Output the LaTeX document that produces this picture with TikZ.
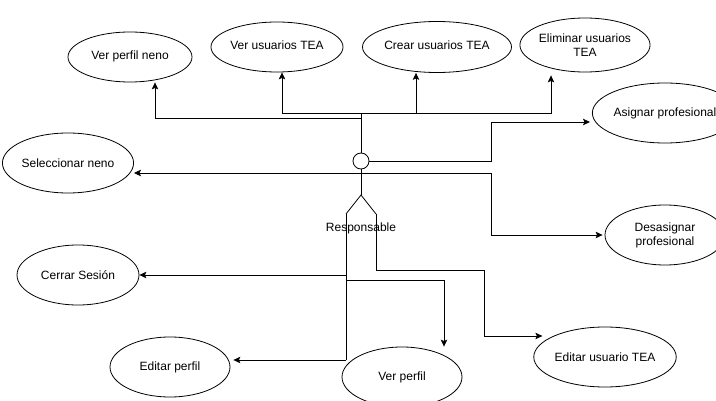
\documentclass[tikz,border=0pt]{standalone}
\usepackage{fontspec}
\setmainfont{Liberation Sans}
\usetikzlibrary{shapes.geometric,arrows.meta}
\begin{document}
\begin{tikzpicture}[x=1pt,y=-1pt,
  uc/.style={draw,ellipse,line width=0.8pt,inner sep=0pt,align=center,
    font=\fontsize{12}{14}\selectfont,minimum width=122pt,minimum height=60pt},
  conn/.style={draw,line width=0.8pt,-{Stealth[length=7pt,width=6.5pt,inset=1.5pt]}},
  plainline/.style={draw,line width=0.8pt},
  lbl/.style={font=\fontsize{12}{14}\selectfont,inner sep=0pt}]
\useasboundingbox (0,0) rectangle (716,401);
\clip (0,0) rectangle (716,401);
% use cases
\node[uc,minimum width=124pt,minimum height=50pt] (vpn) at (130,57) {\raisebox{4pt}{Ver perfil neno}};
\node[uc,minimum width=112pt,minimum height=50pt] (vut) at (277,47) {\raisebox{4pt}{Ver usuarios TEA}};
\node[uc,minimum width=122pt,minimum height=51pt] (cut) at (437,47) {\raisebox{4pt}{Crear usuarios TEA}};
\node[uc,minimum width=122pt,minimum height=54pt] (eut) at (585,45) {Eliminar usuarios\\TEA};
\node[uc,minimum width=120pt] (ap) at (665,113) {Asignar profesional};
\node[uc] (sn) at (68,163) {Seleccionar neno};
\node[uc,minimum width=120pt] (dp) at (665,235) {Desasignar\\profesional};
\node[uc] (cs) at (78,275) {Cerrar Sesión};
\node[uc,minimum width=120pt] (ep) at (170,367) {Editar perfil};
\node[uc,minimum width=120pt] (vp) at (402,377) {Ver perfil};
\node[uc] (eute) at (605,357) {Editar usuario TEA};
% actor
\node[circle,draw,line width=0.8pt,minimum size=16pt,inner sep=0pt] (head) at (361,161) {};
\coordinate (hip) at (361,195);
\coordinate (lk) at (346,214);
\coordinate (rk) at (376,214);
\coordinate (lf) at (346,360);
\coordinate (top) at (361,113);
\coordinate (nk) at (361,118);
\coordinate (arm) at (491,173);
\draw[plainline] (head.south) -- (hip);
\draw[plainline] (lk) -- (hip) -- (rk);
\draw[plainline] (lk) -- (lf);
\draw[plainline] (head.north) -- (top);
\node[lbl] (resp) at (361,228) {Responsable};
% connectors top
\draw[conn] (nk) -| ([xshift=25pt]vpn.south);
\draw[conn] (top) -| ([xshift=5pt]vut.south);
\draw[conn] (top) -| ([xshift=-21pt]cut.south);
\draw[conn] (top) -| ([xshift=-34pt,yshift=-3pt]eut.south);
% right side
\draw[conn] (head.east) -- (491,161) |- ([yshift=-9pt,xshift=-2pt]ap.west);
\draw[conn] (arm) |- ([xshift=-2pt]dp.west);
% arms line to Seleccionar neno
\draw[conn] (arm) -- ([yshift=-10pt]sn.east);
% lower
\draw[conn] (346,275) -- (cs.east);
\draw[conn] (346,280) -| ([xshift=42pt]vp.north);
\draw[conn] (lf) -- ([yshift=7pt,xshift=3pt]ep.east);
\draw[conn] (rk) |- (484,270) |- ([yshift=21pt,xshift=9pt]eute.west);
\end{tikzpicture}
\end{document}
